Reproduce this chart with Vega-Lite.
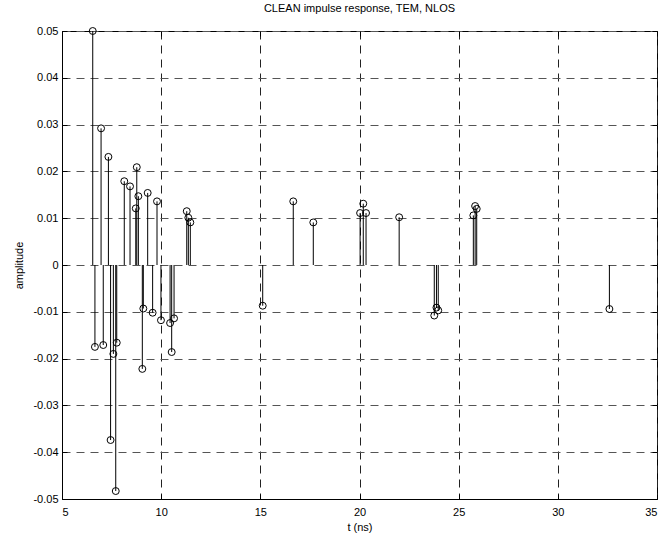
{
  "$schema": "https://vega.github.io/schema/vega-lite/v6.json",
  "autosize": "none",
  "width": 595,
  "height": 468,
  "padding": {"left": 62, "top": 31, "right": 7, "bottom": 40},
  "background": "white",
  "title": {"text": "CLEAN impulse response, TEM, NLOS", "font": "Liberation Sans", "fontSize": 11, "fontWeight": "normal", "color": "black", "offset": 11},
  "config": {
    "view": {"stroke": "black", "strokeWidth": 1},
    "axis": {"labelFont": "Liberation Sans", "labelFontSize": 11, "labelColor": "black", "titleFont": "Liberation Sans", "titleFontSize": 11, "titleFontWeight": "normal", "titleColor": "black", "domainColor": "black", "tickColor": "black", "gridDash": [8, 6], "gridWidth": 1}
  },
  "data": {"values": [
    {"t": 6.55, "amp": 0.05},
    {"t": 6.66, "amp": -0.0175},
    {"t": 6.97, "amp": 0.0292},
    {"t": 7.08, "amp": -0.0171},
    {"t": 7.34, "amp": 0.0231},
    {"t": 7.45, "amp": -0.0374},
    {"t": 7.59, "amp": -0.019},
    {"t": 7.71, "amp": -0.0483},
    {"t": 7.76, "amp": -0.0166},
    {"t": 8.14, "amp": 0.0179},
    {"t": 8.43, "amp": 0.0168},
    {"t": 8.72, "amp": 0.0121},
    {"t": 8.77, "amp": 0.0209},
    {"t": 8.85, "amp": 0.0147},
    {"t": 9.05, "amp": -0.0222},
    {"t": 9.1, "amp": -0.0093},
    {"t": 9.32, "amp": 0.0154},
    {"t": 9.57, "amp": -0.0102},
    {"t": 9.79, "amp": 0.0136},
    {"t": 9.99, "amp": -0.0118},
    {"t": 10.45, "amp": -0.0124},
    {"t": 10.53, "amp": -0.0186},
    {"t": 10.65, "amp": -0.0114},
    {"t": 11.29, "amp": 0.0115},
    {"t": 11.37, "amp": 0.0101},
    {"t": 11.47, "amp": 0.0091},
    {"t": 15.12, "amp": -0.0087},
    {"t": 16.66, "amp": 0.0136},
    {"t": 17.67, "amp": 0.0091},
    {"t": 20.03, "amp": 0.0111},
    {"t": 20.19, "amp": 0.0131},
    {"t": 20.33, "amp": 0.0111},
    {"t": 22.0, "amp": 0.0102},
    {"t": 23.77, "amp": -0.0108},
    {"t": 23.88, "amp": -0.0091},
    {"t": 23.97, "amp": -0.0097},
    {"t": 25.74, "amp": 0.0106},
    {"t": 25.83, "amp": 0.0126},
    {"t": 25.91, "amp": 0.012},
    {"t": 32.6, "amp": -0.0094}
  ]},
  "resolve": {"axis": {"x": "independent", "y": "independent"}},
  "layer": [
    {"mark": {"type": "rule", "color": "black", "strokeWidth": 1},
      "encoding": {
        "x": {"field": "t", "type": "quantitative", "scale": {"domain": [5, 35], "nice": false, "zero": false},
          "axis": {"title": "t (ns)", "values": [5, 10, 15, 20, 25, 30, 35], "grid": true, "gridColor": "#222", "tickSize": -5, "labelPadding": 12, "titlePadding": 4, "labelAngle": 0}},
        "y": {"field": "amp", "type": "quantitative", "scale": {"domain": [-0.05, 0.05], "nice": false},
          "axis": {"title": "amplitude", "values": [-0.05, -0.04, -0.03, -0.02, -0.01, 0, 0.01, 0.02, 0.03, 0.04, 0.05], "grid": true, "gridColor": "#555", "tickSize": -5, "labelPadding": 9, "titlePadding": 8,
            "labelExpr": "replace(format(datum.value, '.2~f'), '\u2212', '-')"}},
        "y2": {"datum": 0}
      }},
    {"mark": {"type": "point", "shape": "circle", "filled": false, "color": "black", "strokeWidth": 1, "size": 48, "opacity": 1},
      "encoding": {
        "x": {"field": "t", "type": "quantitative",
          "axis": {"orient": "top", "title": null, "values": [5, 10, 15, 20, 25, 30, 35], "labels": false, "grid": false, "domain": false, "tickSize": -5}},
        "y": {"field": "amp", "type": "quantitative",
          "axis": {"orient": "right", "title": null, "values": [-0.05, -0.04, -0.03, -0.02, -0.01, 0, 0.01, 0.02, 0.03, 0.04, 0.05], "labels": false, "grid": false, "domain": false, "tickSize": -5}}
      }}
  ]
}
